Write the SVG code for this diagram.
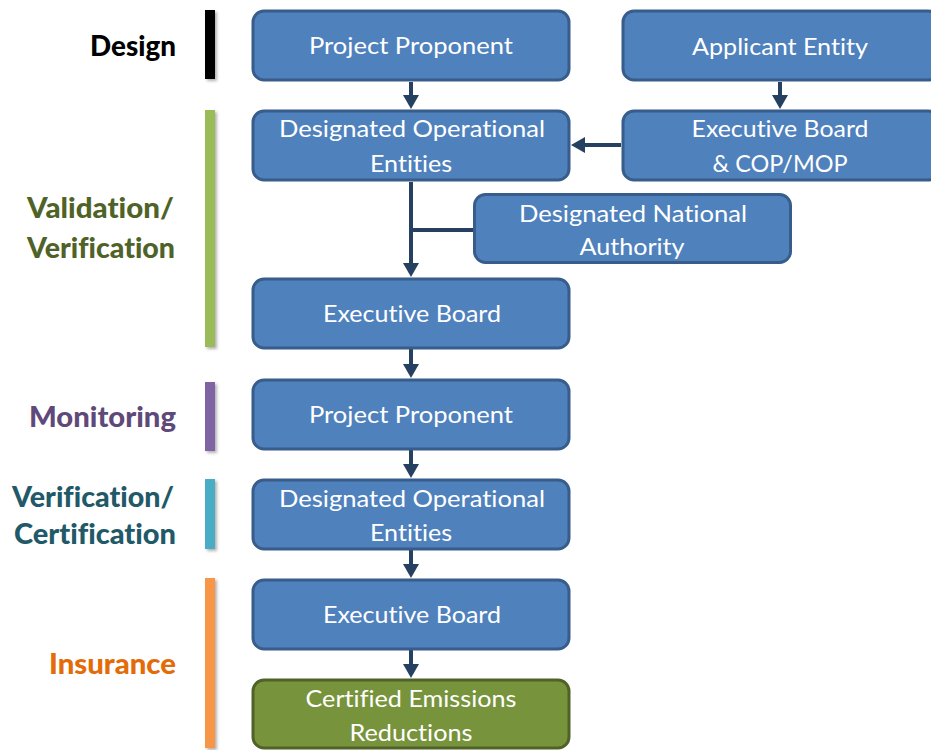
<svg xmlns="http://www.w3.org/2000/svg" width="931" height="750" viewBox="0 0 931 750">
  <style>
    .box { fill: #4f81bd; stroke: #385d8a; stroke-width: 3; }
    .box.green { fill: #77933c; stroke: #4f6228; }
    text { font-variant-ligatures: none; }
    .btxt { font-family: "Lato", "Open Sans", "Liberation Sans", sans-serif; font-size: 24px; fill: #ffffff; text-anchor: middle; }
    .lbl { font-family: "Lato", "Open Sans", "Liberation Sans", sans-serif; font-size: 28px; font-weight: 900; text-anchor: end; }
    .conn { stroke: #254061; stroke-width: 4; fill: none; }
    .bar { filter: url(#barShadow); }
  </style>
  <defs>
    <marker id="head" markerUnits="userSpaceOnUse" markerWidth="16" markerHeight="18" refX="0" refY="8" orient="auto">
      <path d="M0,0 L14,8 L0,16 z" fill="#254061"/>
    </marker>
    <filter id="barShadow" x="-50%" y="-10%" width="200%" height="120%">
      <feDropShadow dx="2" dy="2" stdDeviation="1.5" flood-color="#000000" flood-opacity="0.3"/>
    </filter>
  </defs>
  <rect width="931" height="750" fill="#ffffff"/>

  <!-- phase labels and bars -->
  <g id="phase-design">
    <rect class="bar" x="205" y="10" width="10" height="69" fill="#000000"/>
    <text class="lbl" x="176" y="56" fill="#000000" textLength="86" lengthAdjust="spacingAndGlyphs">Design</text>
  </g>
  <g id="phase-validation">
    <rect class="bar" x="205" y="110" width="10" height="237" fill="#9bbb59"/>
    <text class="lbl" x="174" y="218" fill="#4f6228" textLength="147" lengthAdjust="spacingAndGlyphs">Validation/</text>
    <text class="lbl" x="175" y="258" fill="#4f6228" textLength="148" lengthAdjust="spacingAndGlyphs">Verification</text>
  </g>
  <g id="phase-monitoring">
    <rect class="bar" x="205" y="382" width="10" height="69" fill="#8064a2"/>
    <text class="lbl" x="176" y="427" fill="#5f497a" textLength="147" lengthAdjust="spacingAndGlyphs">Monitoring</text>
  </g>
  <g id="phase-certification">
    <rect class="bar" x="205" y="479" width="10" height="70" fill="#4bacc6"/>
    <text class="lbl" x="174" y="507" fill="#215968" textLength="162" lengthAdjust="spacingAndGlyphs">Verification/</text>
    <text class="lbl" x="176" y="544" fill="#215968" textLength="162" lengthAdjust="spacingAndGlyphs">Certification</text>
  </g>
  <g id="phase-insurance">
    <rect class="bar" x="205" y="578" width="10" height="170" fill="#f79646"/>
    <text class="lbl" x="176" y="674" fill="#e36c09" textLength="127" lengthAdjust="spacingAndGlyphs">Insurance</text>
  </g>

  <!-- connectors -->
  <g id="connectors">
    <line class="conn" x1="411" y1="82" x2="411" y2="95" marker-end="url(#head)"/>
    <line class="conn" x1="780" y1="82" x2="780" y2="95" marker-end="url(#head)"/>
    <line class="conn" x1="621" y1="145" x2="585" y2="145" marker-end="url(#head)"/>
    <line class="conn" x1="411" y1="182" x2="411" y2="263" marker-end="url(#head)"/>
    <line class="conn" x1="473" y1="230" x2="411" y2="230"/>
    <line class="conn" x1="411" y1="349" x2="411" y2="364" marker-end="url(#head)"/>
    <line class="conn" x1="411" y1="450" x2="411" y2="464" marker-end="url(#head)"/>
    <line class="conn" x1="411" y1="550" x2="411" y2="564" marker-end="url(#head)"/>
    <line class="conn" x1="411" y1="650" x2="411" y2="664" marker-end="url(#head)"/>
  </g>

  <!-- nodes -->
  <g id="project-proponent-1">
    <rect class="box" x="253" y="11" width="316" height="69" rx="11"/>
    <text class="btxt" x="411" y="54" textLength="204" lengthAdjust="spacingAndGlyphs">Project Proponent</text>
  </g>
  <g id="applicant-entity">
    <rect class="box" x="623" y="11" width="316" height="69" rx="11"/>
    <text class="btxt" x="780" y="55" textLength="176" lengthAdjust="spacingAndGlyphs">Applicant Entity</text>
  </g>
  <g id="doe-1">
    <rect class="box" x="253" y="111" width="316" height="69" rx="11"/>
    <text class="btxt" x="412" y="137" textLength="266" lengthAdjust="spacingAndGlyphs">Designated Operational</text>
    <text class="btxt" x="411" y="172" textLength="82" lengthAdjust="spacingAndGlyphs">Entities</text>
  </g>
  <g id="eb-cop-mop">
    <rect class="box" x="623" y="111" width="316" height="69" rx="11"/>
    <text class="btxt" x="780" y="137" textLength="177" lengthAdjust="spacingAndGlyphs">Executive Board</text>
    <text class="btxt" x="780" y="172" textLength="135" lengthAdjust="spacingAndGlyphs">&amp; COP/MOP</text>
  </g>
  <g id="dna">
    <rect class="box" x="474.5" y="194.5" width="316" height="68" rx="11"/>
    <text class="btxt" x="633" y="222" textLength="228" lengthAdjust="spacingAndGlyphs">Designated National</text>
    <text class="btxt" x="632" y="255" textLength="105" lengthAdjust="spacingAndGlyphs">Authority</text>
  </g>
  <g id="executive-board-1">
    <rect class="box" x="253" y="279" width="316" height="69" rx="11"/>
    <text class="btxt" x="412" y="322" textLength="178" lengthAdjust="spacingAndGlyphs">Executive Board</text>
  </g>
  <g id="project-proponent-2">
    <rect class="box" x="253" y="380" width="316" height="69" rx="11"/>
    <text class="btxt" x="411" y="423" textLength="204" lengthAdjust="spacingAndGlyphs">Project Proponent</text>
  </g>
  <g id="doe-2">
    <rect class="box" x="253" y="480" width="316" height="69" rx="11"/>
    <text class="btxt" x="412" y="507" textLength="266" lengthAdjust="spacingAndGlyphs">Designated Operational</text>
    <text class="btxt" x="411" y="541" textLength="82" lengthAdjust="spacingAndGlyphs">Entities</text>
  </g>
  <g id="executive-board-2">
    <rect class="box" x="253" y="580" width="316" height="69" rx="11"/>
    <text class="btxt" x="412" y="623" textLength="178" lengthAdjust="spacingAndGlyphs">Executive Board</text>
  </g>
  <g id="cer">
    <rect class="box green" x="253" y="680" width="316" height="68" rx="11"/>
    <text class="btxt" x="411" y="707" textLength="211" lengthAdjust="spacingAndGlyphs">Certified Emissions</text>
    <text class="btxt" x="411" y="741" textLength="123" lengthAdjust="spacingAndGlyphs">Reductions</text>
  </g>
</svg>
